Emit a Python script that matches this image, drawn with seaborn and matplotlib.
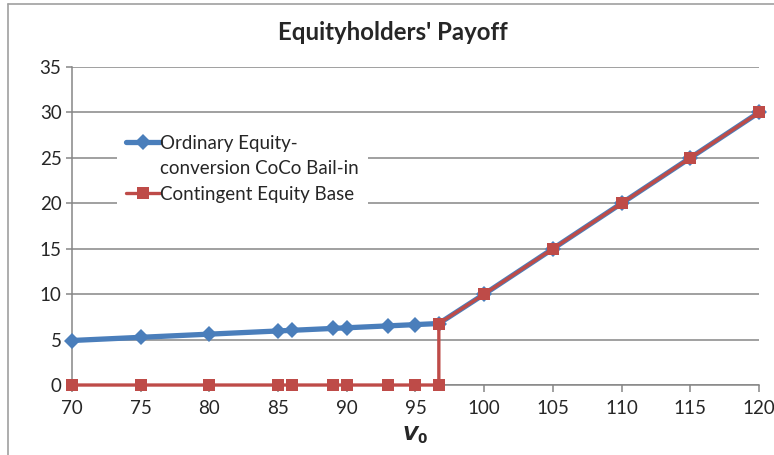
import pandas as pd
import matplotlib
matplotlib.use("Agg")
import matplotlib.pyplot as plt
import seaborn as sns

# ---------------------------------------------------------------------------
# Data
# ---------------------------------------------------------------------------
v0_equity = [70, 75, 80, 85, 86, 89, 90, 93, 95, 96.7, 100, 105, 110, 115, 120]
payoff_equity = [4.9, 5.25, 5.6, 5.95, 6.02, 6.23, 6.3, 6.51, 6.65, 6.77,
                 10, 15, 20, 25, 30]

v0_contingent = [70, 75, 80, 85, 86, 89, 90, 93, 95, 96.7, 96.7,
                 100, 105, 110, 115, 120]
payoff_contingent = [0, 0, 0, 0, 0, 0, 0, 0, 0, 0, 6.77,
                     10, 15, 20, 25, 30]

label_equity = ["Ordinary Equity-", "conversion CoCo Bail-in"]
label_contingent = "Contingent Equity Base"

x_ticks = [70, 75, 80, 85, 90, 95, 100, 105, 110, 115, 120]
y_ticks = [0, 5, 10, 15, 20, 25, 30, 35]

df_eq = pd.DataFrame({"V0": v0_equity, "Payoff": payoff_equity})
df_ce = pd.DataFrame({"V0": v0_contingent, "Payoff": payoff_contingent})

# ---------------------------------------------------------------------------
# Style
# ---------------------------------------------------------------------------
sns.set_style("white")
plt.rcParams["font.family"] = ["Lato", "DejaVu Sans"]

blue = "#4A7EBB"
red = "#BE4B48"
grey = "#868686"

fig = plt.figure(figsize=(7.74, 4.55), dpi=100)
ax = fig.add_axes([0.093, 0.1538, 0.8876, 0.6989])

sns.lineplot(data=df_eq, x="V0", y="Payoff", ax=ax, sort=False, estimator=None,
             color=blue, linewidth=3.8, marker="D", markersize=8.5,
             markeredgewidth=0, label="equity", clip_on=False, zorder=3)
sns.lineplot(data=df_ce, x="V0", y="Payoff", ax=ax, sort=False, estimator=None,
             color=red, linewidth=2.4, marker="s", markersize=8,
             markeredgewidth=0, label="contingent", clip_on=False, zorder=4)

ax.set_xlim(70, 120)
ax.set_ylim(0, 35)
ax.set_xticks(x_ticks)
ax.set_yticks(y_ticks)
ax.yaxis.grid(True, color=grey, linewidth=1.1)
ax.set_axisbelow(True)

for side in ["top", "right"]:
    ax.spines[side].set_visible(False)
for side in ["left", "bottom"]:
    ax.spines[side].set_color(grey)
    ax.spines[side].set_linewidth(1.1)

ax.tick_params(axis="x", direction="out", length=5, width=1.1, color=grey,
               labelsize=13.5, pad=6, bottom=True)
ax.tick_params(axis="y", direction="out", length=4.5, width=1.1, color=grey,
               labelsize=13.5, pad=3, left=True)

ax.set_ylabel("")
ax.set_xlabel(r"$\mathbfit{V}_{\mathbf{0}}$", fontsize=14, labelpad=5)
fig.text(0.507, 0.928, "Equityholders' Payoff", fontsize=17.3,
         fontweight="bold", ha="center", va="center")

# legend: the two-line label keeps its marker on the first line
handles, _ = ax.get_legend_handles_labels()
blank = plt.Line2D([], [], alpha=0)
leg = ax.legend(handles=[handles[0], blank, handles[1]],
                labels=[label_equity[0], label_equity[1], label_contingent],
                loc="upper left", bbox_to_anchor=(0.052, 0.845), frameon=True,
                fontsize=13.5, handlelength=1.8, handletextpad=0.0,
                labelspacing=0.45, borderpad=0.5)
leg.get_frame().set_edgecolor("none")
leg.get_frame().set_facecolor("white")
leg.get_frame().set_alpha(1)

# chart-area border (left and top visible in the reference)
fig.add_artist(plt.Line2D([0.0103, 0.0103], [0, 0.991], color="#A0A0A0",
                          linewidth=1.2, transform=fig.transFigure))
fig.add_artist(plt.Line2D([0.0103, 1], [0.991, 0.991], color="#A0A0A0",
                          linewidth=1.2, transform=fig.transFigure))

fig.savefig("out.png", dpi=100)
